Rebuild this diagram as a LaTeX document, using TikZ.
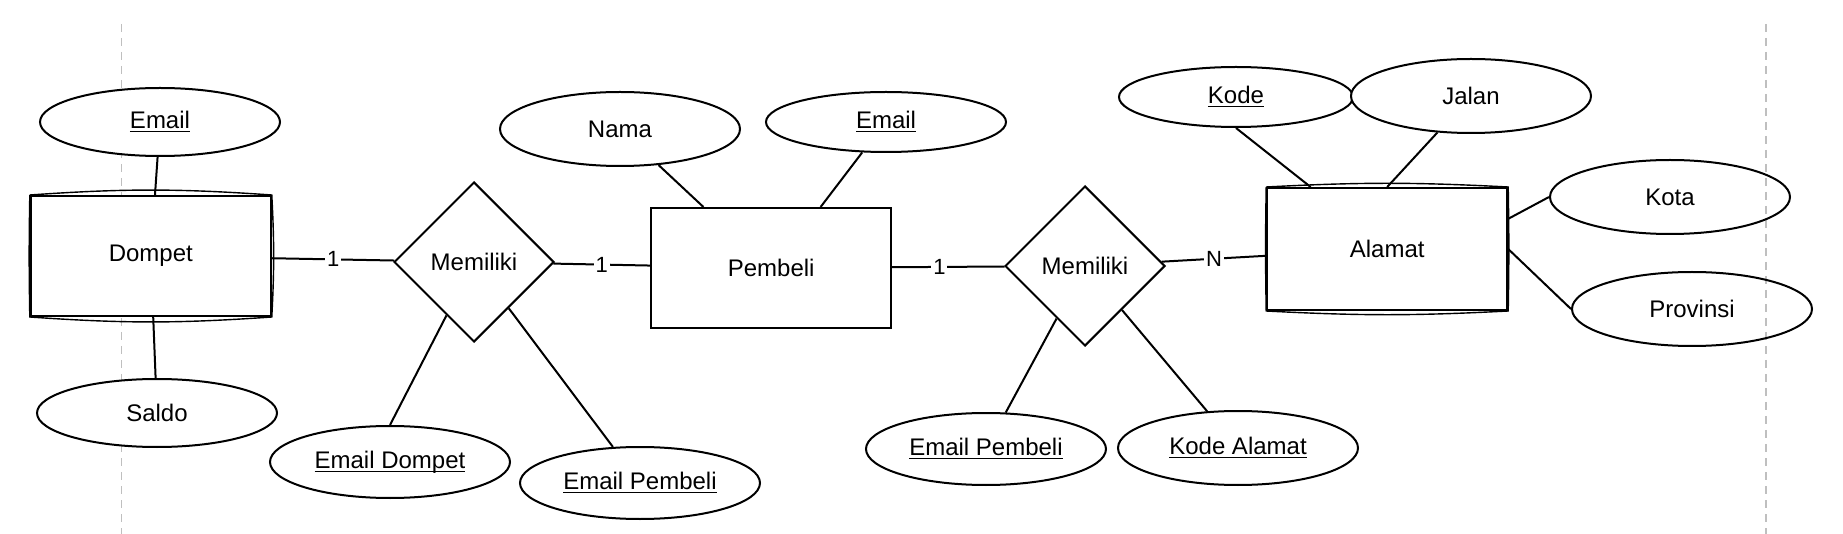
\documentclass[tikz,border=0pt]{standalone}
\usepackage{fontspec}
\setmainfont{Liberation Sans}
\usetikzlibrary{shapes.geometric}
\newcommand{\keyattr}[1]{\underline{\raisebox{0pt}[\height][0pt]{#1}}}

\begin{document}
\begin{tikzpicture}[x=1pt, y=-1pt, line width=1pt,
        entity/.style={draw, fill=white, minimum width=120pt, minimum height=60pt, inner sep=0pt, font=\fontsize{12}{14}\selectfont},
        attr/.style={draw, ellipse, fill=white, minimum width=120pt, minimum height=36pt, inner sep=0pt, font=\fontsize{12}{14}\selectfont},
        rel/.style={draw, diamond, fill=white, minimum width=80pt, minimum height=80pt, inner sep=0pt, font=\fontsize{12}{14}\selectfont},
        card/.style={fill=white, inner sep=1pt, font=\fontsize{11}{13}\selectfont},
        guide/.style={draw=black!25, line width=0.8pt, dash pattern=on 4pt off 3pt}]
        \useasboundingbox (0,0) rectangle (921.5,267);

        \draw[guide] (60.8,12) -- (60.8,267);
        \draw[guide] (883,12) -- (883,267);

        \node[entity] (Dompet) at (75.4,128) {Dompet};
        \node[attr, minimum height=34pt] (DEmail) at (80,61) {\keyattr{Email}};
        \node[attr, minimum height=34pt] (DSaldo) at (78.5,206.5) {Saldo};

        \node[rel] (M1) at (237,131) {Memiliki};
        \node[attr] (M1Dompet) at (195,231) {\keyattr{Email Dompet}};
        \node[attr] (M1Pembeli) at (320,241.5) {\keyattr{Email Pembeli}};

        \node[entity] (Pembeli) at (385.6,134) {Pembeli};
        \node[attr, minimum height=37pt] (PNama) at (310,64.5) {Nama};
        \node[attr, minimum height=30pt] (PEmail) at (443,61) {\keyattr{Email}};

        \node[rel] (M2) at (542.5,133) {Memiliki};
        \node[attr] (M2Pembeli) at (493,224.5) {\keyattr{Email Pembeli}};
        \node[attr, minimum height=37pt] (M2Alamat) at (619,224) {\keyattr{Kode Alamat}};

        \node[entity, minimum height=61pt] (Alamat) at (693.6,124.5) {Alamat};
        \node[attr, minimum width=117pt, minimum height=30pt] (AKode) at (618,48.5) {\keyattr{Kode}};
        \node[attr, minimum height=37pt] (AJalan) at (735.5,48) {Jalan};
        \node[attr, minimum height=37pt, fill=none] (AKota) at (835,98.5) {Kota};
        \node[attr, minimum height=37pt, fill=none] (AProvinsi) at (846,154.5) {Provinsi};

        % rough outline of the sketched entities
        \draw[line width=0.7pt] (Dompet.north west) to[bend left=4] (Dompet.north east) to[bend left=3] (Dompet.south east) to[bend left=4] (Dompet.south west) to[bend left=1] (Dompet.north west);
        \draw[line width=0.7pt] (Alamat.north west) to[bend left=3] (Alamat.north east) to[bend left=1] (Alamat.south east) to[bend left=3] (Alamat.south west) to[bend left=1] (Alamat.north west);

        \draw (DEmail) -- (Dompet) (Dompet) -- (DSaldo);
        \draw (Dompet) -- node[card] {1} (M1);
        \draw (M1) -- node[card] {1} (Pembeli);
        \draw (M1Dompet.north) -- (M1) (M1) -- (M1Pembeli);
        \draw (Pembeli.138) -- (PNama) (Pembeli.51) -- (PEmail.232);
        \draw (Pembeli) -- node[card, pos=0.42] {1} (M2);
        \draw (M2) -- node[card] {N} (Alamat);
        \draw (M2) -- (M2Pembeli) (M2) -- (M2Alamat);
        \draw (AKode.south) -- (Alamat.141) (Alamat.north) -- (AJalan);
        \draw (Alamat.14) -- (AKota.west) (Alamat.east) -- (AProvinsi.west);
    \end{tikzpicture}
\end{document}
